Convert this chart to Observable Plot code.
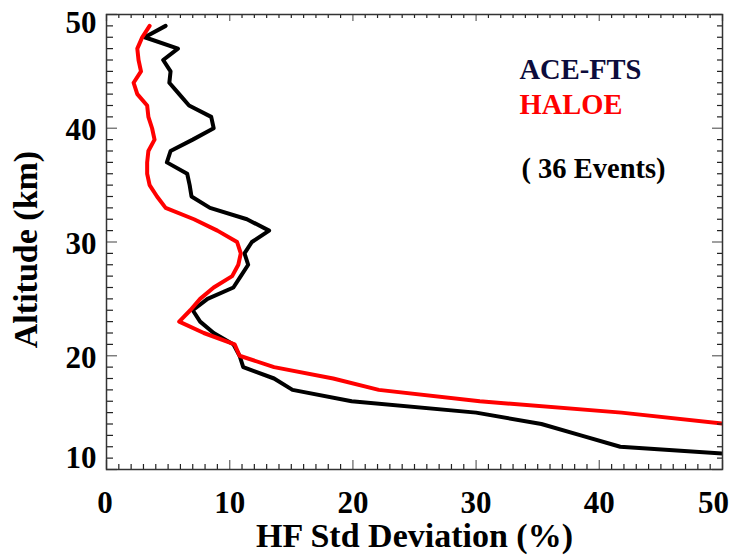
<!DOCTYPE html>
<html><head><meta charset="utf-8">
<script src="https://cdn.jsdelivr.net/npm/d3@7"></script>
<script src="https://cdn.jsdelivr.net/npm/@observablehq/plot@0.6"></script>
<style>
html,body{margin:0;padding:0;background:#fff;}
</style></head><body><div id="chart"></div>
<script>
// ---- data ----
const aceAltitude = [11,12,13,14,15,16,17,18,19,20,21,22,23,24,25,26,27,28,29,30,31,32,33,34,35,36,37,38,39,40,41,42,43,44,45,46,47,48,49];
const aceStdDev   = [55.5,41.7,38.5,35.3,30.0,19.9,15.1,13.6,11.1,10.8,10.3,8.7,7.6,7.0,8.2,10.3,10.9,11.5,11.2,11.8,13.2,11.4,8.4,6.9,6.75,6.55,4.9,5.2,7.0,8.7,8.5,6.7,5.9,5.1,5.2,4.6,5.8,3.1,4.8];
const haloeAltitude = [13,14,15,16,17,18,19,20,21,22,23,24,25,26,27,28,29,30,31,32,33,34,35,36,37,38,39,40,41,42,43,44,45,46,47,48,49];
const haloeStdDev   = [58.0,50.3,41.8,30.3,22.1,18.4,13.6,10.8,10.4,7.9,5.9,6.8,7.6,8.7,10.2,10.7,10.9,10.6,9.0,7.1,4.8,4.1,3.5,3.3,3.3,3.4,3.9,3.7,3.4,3.3,2.5,2.2,2.8,2.6,2.5,2.9,3.5];
const xTickValues = [0,10,20,30,40,50];
const yTickValues = [10,20,30,40,50];
const legendLabels = ["ACE-FTS","HALOE"];
const legendColors = ["#0c0c3c","#ff0000"];
const eventsNote = "( 36 Events)";
const xTitle = "HF Std Deviation (%)";
const yTitle = "Altitude (km)";

// ---- layout ----
const W = 742, H = 556, mL = 106, mR = 20, mT = 14, mB = 87;
const pw = W - mL - mR, ph = H - mT - mB;
const serif = "'Liberation Serif','Times New Roman',serif";
const xMinor = d3.range(0, 51).filter(v => v % 10);
const yMinor = d3.range(10, 51).filter(v => v % 10);

const ace = aceAltitude.map((a, i) => ({alt: a, sd: aceStdDev[i]}));
const haloe = haloeAltitude.map((a, i) => ({alt: a, sd: haloeStdDev[i]}));

const tk = {stroke: "#222", strokeWidth: 1.2};
const tkMaj = {stroke: "#777", strokeWidth: 1.4};
const lbl = {fontFamily: serif, fontWeight: "bold", fill: "#000", lineAnchor: "middle"};

const chart = Plot.plot({
  width: W, height: H,
  marginLeft: mL, marginRight: mR, marginTop: mT, marginBottom: mB,
  x: {domain: [0, 50], axis: null},
  y: {domain: [10, 50], axis: null},
  style: {fontFamily: serif, background: "white", overflow: "visible"},
  marks: [
    // data lines
    Plot.line(ace, {x: "sd", y: "alt", stroke: "#000", strokeWidth: 4, clip: true}),
    Plot.line(haloe, {x: "sd", y: "alt", stroke: "#ff0000", strokeWidth: 4, clip: true}),
    // bottom / top ticks (inward)
    Plot.ruleX(xMinor, {x: d => d, insetTop: ph - 5, ...tk}),
    Plot.ruleX(xTickValues, {x: d => d, insetTop: ph - 9, ...tkMaj}),
    Plot.ruleX(xMinor, {x: d => d, insetBottom: ph - 4, ...tk}),
    Plot.ruleX(xTickValues, {x: d => d, insetBottom: ph - 7, ...tkMaj}),
    // left / right ticks (inward)
    Plot.ruleY(yMinor, {y: d => d, insetRight: pw - 7, ...tk}),
    Plot.ruleY(yTickValues, {y: d => d, insetRight: pw - 11, ...tkMaj}),
    Plot.ruleY(yMinor, {y: d => d, insetLeft: pw - 5, ...tk}),
    Plot.ruleY(yTickValues, {y: d => d, insetLeft: pw - 10, ...tkMaj}),
    Plot.frame({stroke: "#333", strokeWidth: 1.5}),
    // x tick labels
    Plot.text(xTickValues.slice(1, -1), {x: d => d, text: d => String(d), frameAnchor: "bottom", dy: 33.5, fontSize: 31, ...lbl}),
    Plot.text(xTickValues.slice(0, 1), {x: d => d, text: d => String(d), frameAnchor: "bottom", dy: 33.5, dx: -1.5, fontSize: 31, ...lbl}),
    Plot.text(xTickValues.slice(-1), {x: d => d, text: d => String(d), frameAnchor: "bottom", dy: 33.5, dx: -9, fontSize: 31, ...lbl}),
    // y tick labels
    Plot.text(yTickValues.slice(1, -1), {y: d => d, text: d => String(d), frameAnchor: "left", dx: -10, dy: 2, textAnchor: "end", fontSize: 31, ...lbl}),
    Plot.text(yTickValues.slice(0, 1), {y: d => d, text: d => String(d), frameAnchor: "left", dx: -10, dy: -11.5, textAnchor: "end", fontSize: 31, ...lbl}),
    Plot.text(yTickValues.slice(-1), {y: d => d, text: d => String(d), frameAnchor: "left", dx: -10, dy: 8.5, textAnchor: "end", fontSize: 31, ...lbl}),
    // axis titles
    Plot.text([xTitle], {text: d => d, frameAnchor: "bottom", dy: 66.5, fontSize: 34, textAnchor: "middle", ...lbl}),
    Plot.text([yTitle], {text: d => d, frameAnchor: "left", dx: -80, dy: 7.5, rotate: -90, fontSize: 34, textAnchor: "middle", ...lbl}),
    // legend
    ...legendLabels.map((t, i) => Plot.text([t], {text: d => d, frameAnchor: "top-left", dx: 413, dy: 55 + i * 35, textAnchor: "start", fontSize: 28.5, ...lbl, fill: legendColors[i]})),
    Plot.text([eventsNote], {text: d => d, frameAnchor: "top-left", dx: 415, dy: 154, textAnchor: "start", fontSize: 28.5, ...lbl})
  ]
});
document.getElementById("chart").appendChild(chart);
</script>
</body></html>
